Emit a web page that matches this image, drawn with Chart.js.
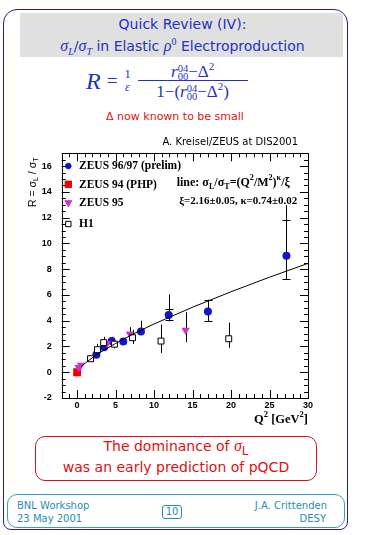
<!DOCTYPE html>
<html><head><meta charset="utf-8">
<script src="https://cdn.jsdelivr.net/npm/chart.js@4/dist/chart.umd.min.js"></script>
<style>
body{margin:0;width:365px;height:535px;position:relative;background:#fff;font-family:"DejaVu Sans",sans-serif;overflow:hidden}
.abs{position:absolute}
#frame{left:3px;top:9px;width:345px;height:521px;border:1.5px solid #22229a;border-radius:14px 14px 8px 8px;box-sizing:border-box}
#tbox{left:20px;top:13px;width:323px;height:44px;background:#e0e0e0}
.tl{left:0;width:365px;text-align:center;color:#2232c4;font-size:14px;white-space:nowrap}
.m{font-family:"Liberation Serif",serif;font-style:italic}
#formula{left:86px;top:58px;height:46px;display:flex;align-items:center;color:#2232c4;font-family:"Liberation Serif",serif;white-space:nowrap}
.fr{display:inline-flex;flex-direction:column;align-items:center;vertical-align:middle}
.fr .n{padding:0 1px;line-height:1.05}
.fr .d{line-height:1.05}
.ss{display:inline-flex;flex-direction:column;font-size:10.5px;line-height:8px;vertical-align:middle}
#red{left:0;width:350px;top:110px;text-align:center;color:#dd1111;font-size:11px}
#rbox{left:35px;top:436px;width:282px;height:45px;border:1px solid #dd1111;border-radius:10px;box-sizing:border-box}
.rl{left:0;width:352px;text-align:center;color:#dd1111;font-size:14px;white-space:nowrap}
#fbox{left:7px;top:494px;width:338px;height:34px;border:1px solid #3a9cc0;border-radius:10px;box-sizing:border-box}
.ft{color:#2a8cb4;font-size:10px;white-space:nowrap}
#pg{left:162px;top:505px;width:20px;height:14px;border:1px solid #2a8cb4;border-radius:3px;box-sizing:border-box;text-align:center;line-height:12px;font-size:10px;color:#2a8cb4}
#cw{left:20px;top:130px;width:320px;height:300px}
</style></head>
<body>
<div id="frame" class="abs"></div>
<div id="tbox" class="abs"></div>
<div class="abs tl" style="top:16px">Quick Review (IV):</div>
<div class="abs tl" style="top:36px"><span class="m" style="font-size:16px">σ<sub style="font-size:10px">L</sub></span>/<span class="m" style="font-size:16px">σ<sub style="font-size:10px">T</sub></span> in Elastic <span class="m" style="font-size:16px">ρ<sup style="font-size:10px;font-style:normal">0</sup></span> Electroproduction</div>
<div id="formula" class="abs">
  <span style="font-size:24px;font-style:italic">R</span>
  <span style="font-size:19px;margin:0 6px 0 6px">=</span>
  <span class="fr" style="font-size:12.5px;margin-right:6px"><span class="n">1</span><span class="d m">ε</span></span>
  <span class="fr" style="font-size:17px">
    <span class="n" style="margin-bottom:-1px"><span class="m">r</span><span class="ss"><span>04</span><span>00</span></span>−Δ<sup style="font-size:11px">2</sup></span>
    <span style="display:block;width:110px;height:1.2px;background:#2232c4"></span>
    <span class="d">1−(<span class="m">r</span><span class="ss"><span>04</span><span>00</span></span>−Δ<sup style="font-size:11px">2</sup>)</span>
  </span>
</div>
<div id="red" class="abs">Δ now known to be small</div>
<div id="cw" class="abs"><canvas id="c" width="320" height="300"></canvas></div>
<div id="rbox" class="abs"></div>
<div class="abs rl" style="top:437px">The dominance of <span class="m" style="font-size:16px">σ</span><sub style="font-size:12px">L</sub></div>
<div class="abs rl" style="top:459px">was an early prediction of pQCD</div>
<div id="fbox" class="abs"></div>
<div class="abs ft" style="left:17px;top:500px">BNL Workshop</div>
<div class="abs ft" style="left:17px;top:513px">23 May 2001</div>
<div id="pg" class="abs">10</div>
<div class="abs ft" style="right:38px;top:500px">J.A. Crittenden</div>
<div class="abs ft" style="right:39px;top:513px">DESY</div>
<script>
// ---- data ----
const xTicks = [0, 5, 10, 15, 20, 25, 30];
const yTicks = [-2, 0, 2, 4, 6, 8, 10, 12, 14, 16];

const zeus9697Q2    = [2.5, 3.5, 4.5, 6.0, 8.3, 11.9, 17.0, 27.2];
const zeus9697R     = [1.36, 1.95, 2.42, 2.38, 3.16, 4.45, 4.72, 9.04];
const zeus9697ErrLo = [1.25, 1.80, 2.10, 2.22, 2.90, 3.95, 3.98, 7.22];
const zeus9697ErrHi = [1.50, 2.12, 2.75, 2.58, 4.00, 6.05, 5.63, 12.97];
const zeus9697TickLo= [null, null, null, null, null, 4.05, 3.98, 7.22];
const zeus9697TickHi= [null, null, null, null, null, 4.90, 5.60, 11.85];

const zeus94Q2 = [0.0];
const zeus94R  = [0.0];

const zeus95Q2    = [0.2, 0.5, 3.9, 6.85, 14.1];
const zeus95R     = [0.38, 0.55, 2.24, 2.98, 3.26];
const zeus95ErrLo = [0.30, 0.45, 2.10, 2.75, 2.34];
const zeus95ErrHi = [0.45, 0.65, 2.40, 3.50, 4.66];

const h1Q2    = [1.75, 2.65, 3.45, 4.85, 7.2, 10.9, 19.7];
const h1R     = [1.05, 1.75, 2.30, 2.18, 2.68, 2.42, 2.60];
const h1ErrLo = [0.95, 1.35, 1.95, 1.85, 2.20, 1.50, 1.90];
const h1ErrHi = [1.15, 2.20, 2.75, 2.45, 3.30, 3.70, 3.86];

const fitQ2 = [0.5, 1, 2, 3, 5, 7.5, 10, 15, 20, 25, 30];
const fitR  = [0.41, 0.68, 1.14, 1.54, 2.24, 3.03, 3.75, 5.05, 6.25, 7.38, 8.45];

const legendLabels = ['ZEUS 96/97 (prelim)', 'ZEUS 94 (PHP)', 'ZEUS 95', 'H1'];

const pts = (xs, ys) => xs.map((x, i) => ({x, y: ys[i]}));

function rich(ctx, parts, x, y, base, family, weight, align) {
  const sz = {n: base, sub: base * 0.68, sup: base * 0.68};
  const dy = {n: 0, sub: base * 0.28, sup: -base * 0.42};
  let w = 0;
  for (const [t, k] of parts) { ctx.font = `${weight} ${sz[k || 'n']}px ${family}`; w += ctx.measureText(t).width; }
  let cx = align === 'right' ? x - w : align === 'center' ? x - w / 2 : x;
  for (const [t, k] of parts) {
    ctx.font = `${weight} ${sz[k || 'n']}px ${family}`;
    ctx.fillText(t, cx, y + dy[k || 'n']);
    cx += ctx.measureText(t).width;
  }
}

const errPlugin = {
  id: 'err',
  beforeDatasetsDraw(chart) {
    const ctx = chart.ctx, xs = chart.scales.x, ys = chart.scales.y;
    ctx.save(); ctx.strokeStyle = '#000'; ctx.lineWidth = 1;
    chart.data.datasets.forEach(ds => {
      if (!ds.errLo) return;
      ds.data.forEach((p, i) => {
        const px = Math.round(xs.getPixelForValue(p.x)) + 0.5;
        ctx.beginPath();
        ctx.moveTo(px, ys.getPixelForValue(ds.errLo[i]));
        ctx.lineTo(px, ys.getPixelForValue(ds.errHi[i]));
        ctx.stroke();
        [ds.tickLo, ds.tickHi].forEach(arr => {
          if (arr && arr[i] != null) {
            const py = Math.round(ys.getPixelForValue(arr[i])) + 0.5;
            ctx.beginPath(); ctx.moveTo(px - 4, py); ctx.lineTo(px + 4, py); ctx.stroke();
          }
        });
      });
    });
    ctx.restore();
  }
};

const framePlugin = {
  id: 'frame',
  afterDraw(chart) {
    const ctx = chart.ctx, xs = chart.scales.x, ys = chart.scales.y;
    const {left, right, top, bottom} = chart.chartArea;
    ctx.save();
    ctx.strokeStyle = '#000'; ctx.lineWidth = 1;
    ctx.strokeRect(Math.round(left) + 0.5, Math.round(top) + 0.5, Math.round(right - left), Math.round(bottom - top));
    ctx.beginPath();
    for (let v = xs.min; v <= xs.max; v += 1) {
      const px = Math.round(xs.getPixelForValue(v)) + 0.5;
      const len = v % 5 === 0 ? 8 : 4;
      ctx.moveTo(px, bottom); ctx.lineTo(px, bottom - len);
      ctx.moveTo(px, top); ctx.lineTo(px, top + len);
    }
    for (let v = ys.min; v <= ys.max + 1e-9; v += 0.5) {
      const py = Math.round(ys.getPixelForValue(v)) + 0.5;
      const len = v % 2 === 0 ? 8 : 4;
      ctx.moveTo(left, py); ctx.lineTo(left + len, py);
      ctx.moveTo(right, py); ctx.lineTo(right - len, py);
    }
    ctx.stroke();

    // legend
    const dsets = chart.data.datasets.filter(d => d.legendRow != null);
    const helpers = Chart.helpers;
    dsets.forEach(ds => {
      const y = top + [12.7, 31, 49.4, 70.7][ds.legendRow];
      const opts = {pointStyle: ds.pointStyle, radius: ds.legendRadius, rotation: ds.rotation || 0, borderWidth: 1};
      ctx.fillStyle = ds.backgroundColor; ctx.strokeStyle = ds.borderColor; ctx.lineWidth = 1;
      helpers.drawPoint(ctx, opts, left + 6.6, y);
      ctx.fillStyle = '#000'; ctx.textBaseline = 'middle';
      ctx.font = 'bold 11.5px "Liberation Serif"';
      ctx.fillText(ds.label, left + 17.3, y + 0.5);
    });

    // annotation
    ctx.fillStyle = '#000'; ctx.textBaseline = 'middle';
    rich(ctx, [['line: σ'], ['L', 'sub'], ['/σ'], ['T', 'sub'], ['=(Q'], ['2', 'sup'], ['/M'], ['2', 'sup'], [')'], ['κ', 'sup'], ['/ξ']],
      left + 115, top + 30, 12, '"Liberation Serif"', 'bold', 'left');
    rich(ctx, [['ξ=2.16±0.05, κ=0.74±0.02']], left + 117.5, top + 48, 11, '"Liberation Serif"', 'bold', 'left');

    // header credit
    ctx.font = '10px "DejaVu Sans"'; ctx.textAlign = 'right';
    ctx.fillText('A. Kreisel/ZEUS at DIS2001', right - 10, top - 10.5);
    ctx.textAlign = 'left';

    // axis titles
    ctx.save();
    ctx.translate(left - 28.5, top + 29);
    ctx.rotate(-Math.PI / 2);
    rich(ctx, [['R = σ'], ['L', 'sub'], [' / σ'], ['T', 'sub']], 0, 0, 10.5, '"Liberation Sans"', 'normal', 'center');
    ctx.restore();
    rich(ctx, [['Q'], ['2', 'sup'], [' [GeV'], ['2', 'sup'], [']']], right, bottom + 22, 12.5, '"Liberation Serif"', 'bold', 'right');
    ctx.restore();
  }
};

new Chart(document.getElementById('c'), {
  type: 'scatter',
  data: {
    datasets: [
      {type: 'line', data: pts(fitQ2, fitR), borderColor: '#000', borderWidth: 1, pointRadius: 0, fill: false, tension: 0},
      {label: legendLabels[3], legendRow: 3, data: pts(h1Q2, h1R), errLo: h1ErrLo, errHi: h1ErrHi,
       pointStyle: 'rect', pointRadius: 4.2, legendRadius: 3.8, backgroundColor: '#fff', borderColor: '#000', borderWidth: 1},
      {label: legendLabels[2], legendRow: 2, data: pts(zeus95Q2, zeus95R), errLo: zeus95ErrLo, errHi: zeus95ErrHi,
       pointStyle: 'triangle', rotation: 180, pointRadius: 4.8, legendRadius: 4, backgroundColor: '#cc33cc', borderColor: '#cc33cc', borderWidth: 0},
      {label: legendLabels[0], legendRow: 0, data: pts(zeus9697Q2, zeus9697R), errLo: zeus9697ErrLo, errHi: zeus9697ErrHi,
       tickLo: zeus9697TickLo, tickHi: zeus9697TickHi,
       pointStyle: 'circle', pointRadius: 4, legendRadius: 2.8, backgroundColor: '#1414cc', borderColor: '#1414cc', borderWidth: 0},
      {label: legendLabels[1], legendRow: 1, data: pts(zeus94Q2, zeus94R),
       pointStyle: 'rect', pointRadius: 5.5, legendRadius: 4.5, backgroundColor: '#ee0000', borderColor: '#ee0000', borderWidth: 0}
    ]
  },
  options: {
    responsive: false, animation: false, devicePixelRatio: 1,
    layout: {padding: {left: 0, right: 32, top: 23.3, bottom: 0}},
    plugins: {legend: {display: false}, tooltip: {enabled: false}},
    scales: {
      x: {type: 'linear', min: -2, max: 30,
        afterBuildTicks: s => { s.ticks = xTicks.map(v => ({value: v})); },
        afterFit: s => { s.height = 32; },
        grid: {display: false, drawTicks: false}, border: {display: false},
        ticks: {color: '#000', padding: 2, maxRotation: 0, font: {family: 'Liberation Sans', weight: 'bold', size: 9}}},
      y: {type: 'linear', min: -2, max: 17,
        afterBuildTicks: s => { s.ticks = yTicks.map(v => ({value: v})); },
        afterFit: s => { s.width = 41.7; },
        grid: {display: false, drawTicks: false}, border: {display: false},
        ticks: {color: '#000', padding: 10, font: {family: 'Liberation Sans', weight: 'bold', size: 9}}}
    }
  },
  plugins: [errPlugin, framePlugin]
});
</script>
</body></html>
